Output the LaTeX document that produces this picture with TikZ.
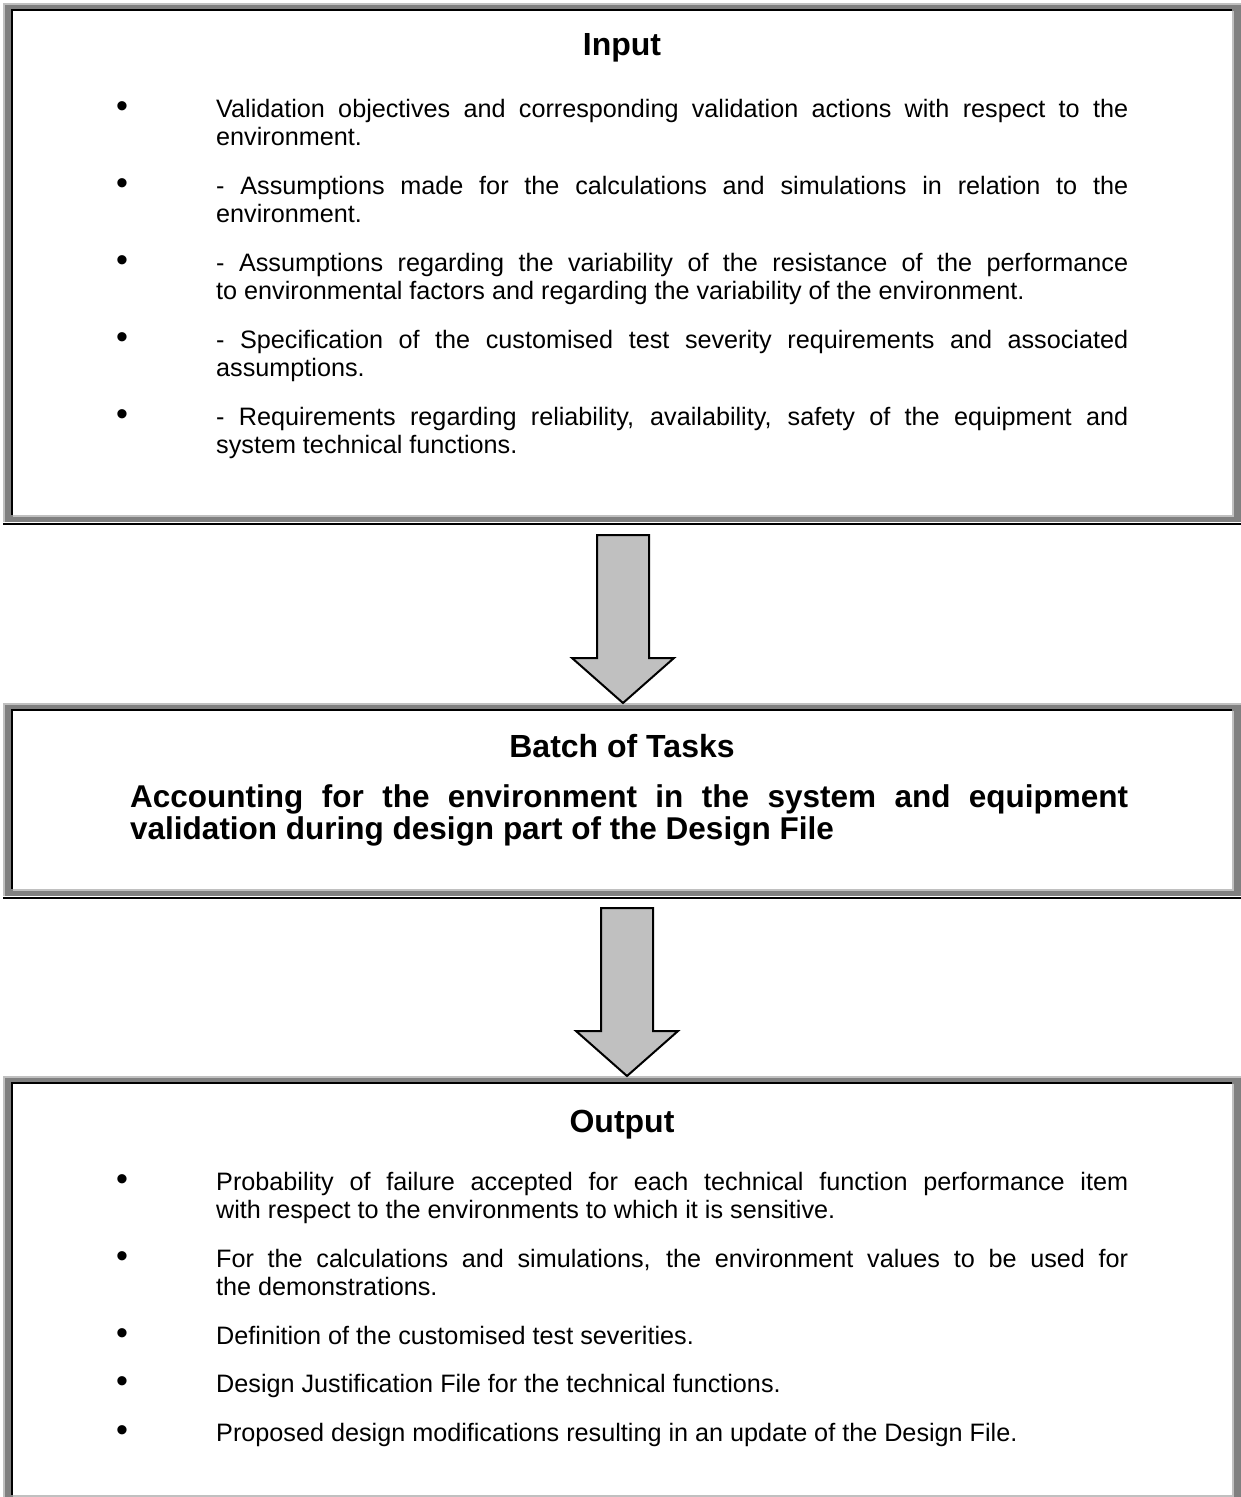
\documentclass[tikz,border=0pt]{standalone}
\usepackage{fontspec}
\setmainfont{Liberation Sans}
\usetikzlibrary{calc}
\hyphenpenalty=10000
\exhyphenpenalty=10000
\tolerance=10000

\definecolor{frameDark}{HTML}{808080}
\definecolor{frameLight}{HTML}{C0C0C0}
\definecolor{arrowFill}{HTML}{C0C0C0}

\tikzset{
  panel/.style={rectangle, inner sep=0pt, outer sep=0pt, fill=frameDark, anchor=north west},
  bodytext/.style={inner sep=0pt, anchor=base west, text width=912pt, align=justify,
    font=\fontsize{25.2}{28.5}\selectfont},
  bulletmark/.style={inner sep=0pt, anchor=base, font=\fontsize{34}{34}\selectfont},
  heading/.style={inner sep=0pt, anchor=base, font=\bfseries\fontsize{32}{33}\selectfont},
  headtext/.style={inner sep=0pt, anchor=base west, text width=998pt, align=justify,
    font=\bfseries\fontsize{31.5}{32}\selectfont},
  blockarrow/.style={fill=arrowFill, draw=black, line width=2pt, line join=miter},
}

% sunken double frame around a panel node
\newcommand\ridge[1]{%
  \fill[frameLight] (#1.north west) rectangle ($(#1.north east)+(0,1.5)$);
  \fill[frameLight] (#1.north west) rectangle ($(#1.south west)+(2,0)$);
  \fill[black] ($(#1.north west)+(8,6)$) rectangle ($(#1.south east)+(-10,-7)$);
  \fill[frameLight] ($(#1.north west)+(10,8)$) rectangle ($(#1.south east)+(-8,-5)$);
  \fill[white] ($(#1.north west)+(10,8)$) rectangle ($(#1.south east)+(-10,-7)$);
  \fill[black] ($(#1.south west)+(0,1)$) rectangle ($(#1.south east)+(0,3)$);
}

% thick downward block arrow from a start point to a tip point
\newcommand\blockarrow[2]{%
  \draw[blockarrow] let \p1=(#1), \p2=(#2) in
    (\x1-26pt,\y1) -- (\x1+26pt,\y1) -- (\x1+26pt,\y2+45pt) -- (\x1+51pt,\y2+45pt)
    -- (\x1,\y2) -- (\x1-51pt,\y2+45pt) -- (\x1-26pt,\y2+45pt) -- cycle;
}

\begin{document}
\begin{tikzpicture}[x=1pt, y=-1pt]
\useasboundingbox (0,0) rectangle (1240,1497);
\fill[white] (0,0) rectangle (1240,1497);

% panels
\node[panel, minimum width=1239pt, minimum height=519pt] (inbox) at (3,3) {};
\node[panel, minimum width=1239pt, minimum height=193pt] (midbox) at (3,703) {};
\node[panel, minimum width=1239pt, minimum height=426pt] (outbox) at (3,1076) {};
\ridge{inbox}
\ridge{midbox}
\ridge{outbox}

% input panel
\node[heading] (intitle) at (622,55) {Input};
\node[bulletmark] (ib1) at (122,117) {\textbullet};
\node[bodytext] (in1) at (216,117) {Validation objectives and corresponding validation actions with respect to the\linebreak environment.};
\node[bulletmark] (ib2) at (122,194) {\textbullet};
\node[bodytext] (in2) at (216,194) {- Assumptions made for the calculations and simulations in relation to the\linebreak environment.};
\node[bulletmark] (ib3) at (122,271) {\textbullet};
\node[bodytext] (in3) at (216,271) {- Assumptions regarding the variability of the resistance of the performance\linebreak to environmental factors and regarding the variability of the environment.};
\node[bulletmark] (ib4) at (122,348) {\textbullet};
\node[bodytext] (in4) at (216,348) {- Specification of the customised test severity requirements and associated\linebreak assumptions.};
\node[bulletmark] (ib5) at (122,425) {\textbullet};
\node[bodytext] (in5) at (216,425) {- Requirements regarding reliability, availability, safety of the equipment and\linebreak system technical functions.};

% task panel
\node[heading] (midtitle) at (622,757) {Batch of Tasks};
\node[headtext] (midtext) at (130,807) {Accounting for the environment in the system and equipment\linebreak validation during design part of the Design File};

% output panel
\node[heading] (outtitle) at (622,1132) {Output};
\node[bulletmark] (ob1) at (122,1190) {\textbullet};
\node[bodytext] (out1) at (216,1190) {Probability of failure accepted for each technical function performance item\linebreak with respect to the environments to which it is sensitive.};
\node[bulletmark] (ob2) at (122,1267) {\textbullet};
\node[bodytext] (out2) at (216,1267) {For the calculations and simulations, the environment values to be used for\linebreak the demonstrations.};
\node[bulletmark] (ob3) at (122,1344) {\textbullet};
\node[bodytext] (out3) at (216,1344) {Definition of the customised test severities.};
\node[bulletmark] (ob4) at (122,1392) {\textbullet};
\node[bodytext] (out4) at (216,1392) {Design Justification File for the technical functions.};
\node[bulletmark] (ob5) at (122,1441) {\textbullet};
\node[bodytext] (out5) at (216,1441) {Proposed design modifications resulting in an update of the Design File.};

% arrows between panels
\coordinate (a1s) at ($(inbox.south)+(0.5,13)$);
\coordinate (a2s) at ($(midbox.south)+(4.5,12)$);
\blockarrow{a1s}{a1s |- midbox.north}
\blockarrow{a2s}{a2s |- outbox.north}
\end{tikzpicture}
\end{document}
